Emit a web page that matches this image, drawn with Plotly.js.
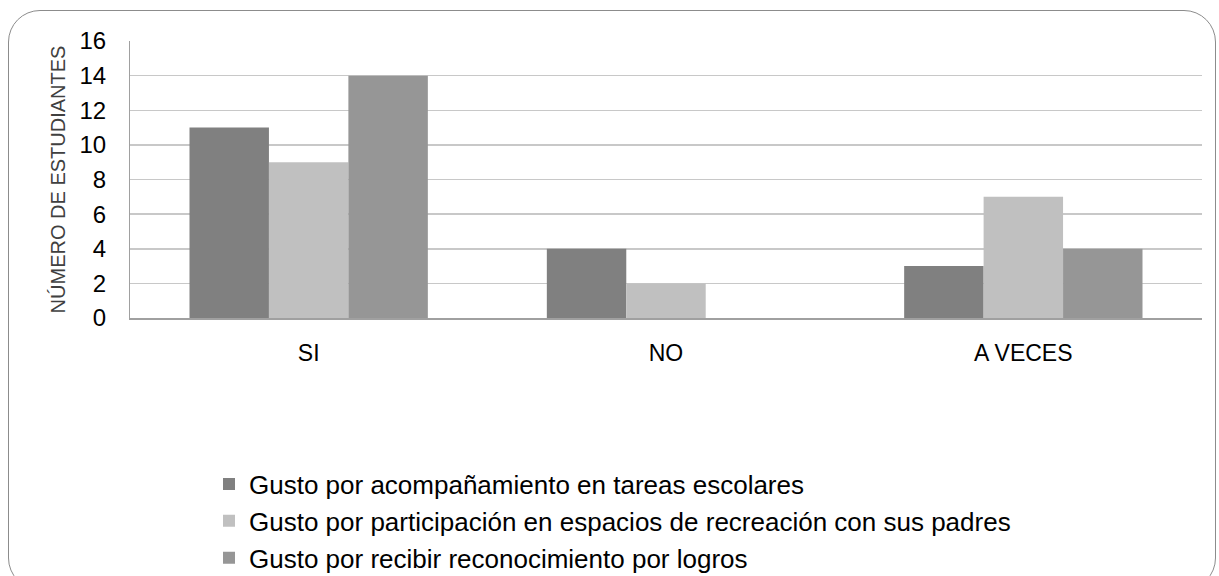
<!DOCTYPE html>
<html>
<head>
<meta charset="utf-8">
<script src="https://cdn.plot.ly/plotly-3.0.1.min.js"></script>
<style>
  html, body { margin: 0; padding: 0; background: #fff; overflow: hidden; }
  #wrap { position: relative; width: 1219px; height: 576px; }
  #frame { position: absolute; left: 8px; top: 10px; width: 1208px; height: 580px;
           border: 1.5px solid #8c8c8c; border-radius: 32px; box-sizing: border-box; pointer-events: none; }
  #chart { position: absolute; left: 0; top: 0; width: 1219px; height: 576px; }
</style>
</head>
<body>
<div id="wrap">
  <div id="chart"></div>
  <div id="frame"></div>
</div>
<script>
const categories = ["SI", "NO", "A VECES"];
const seriesNames = [
  "Gusto por acompañamiento en tareas escolares",
  "Gusto por participación en espacios de recreación con sus padres",
  "Gusto por recibir reconocimiento por logros"
];
const acompanamiento = [11, 4, 3];
const participacion = [9, 2, 7];
const reconocimiento = [14, 0, 4];
const yTicks = [0, 2, 4, 6, 8, 10, 12, 14, 16];
const colors = ["#808080", "#c0c0c0", "#969696"];

const values = [acompanamiento, participacion, reconocimiento];
const traces = values.map((v, i) => ({
  type: "bar",
  x: categories,
  y: v,
  name: seriesNames[i],
  legendgroup: "g" + i,
  marker: { color: colors[i], line: { width: 0 } },
  hoverinfo: "x+y+name"
}));

const layout = {
  width: 1219, height: 576,
  margin: { l: 130, r: 17, t: 41, b: 258, autoexpand: false },
  paper_bgcolor: "rgba(0,0,0,0)",
  plot_bgcolor: "#fff",
  font: { family: "Liberation Sans, Arial, sans-serif", color: "#000" },
  barmode: "group",
  bargap: 0.333,
  bargroupgap: 0,
  showlegend: true,
  legend: {
    x: 0.0737, xanchor: "left", y: -0.515, yanchor: "top",
    orientation: "v", traceorder: "grouped", tracegroupgap: 0,
    font: { size: 26, color: "#000" }, itemwidth: 30
  },
  xaxis: {
    type: "category",
    tickfont: { size: 23, color: "#000" },
    showline: true, linecolor: "#a0a0a0", linewidth: 1.5,
    ticks: "", showgrid: false, zeroline: false,
    ticklabelstandoff: 14
  },
  yaxis: {
    range: [0, 16],
    tickvals: yTicks,
    ticktext: yTicks.map(String),
    tickfont: { size: 24, color: "#000" },
    showgrid: true, gridcolor: "#c8c8c8", gridwidth: 1.5,
    showline: true, linecolor: "#a0a0a0", linewidth: 1,
    zeroline: false, ticks: "", ticklen: 0,
    ticklabelstandoff: 18,
    title: { text: "NÚMERO DE ESTUDIANTES", font: { size: 20, color: "#404040" }, standoff: 8 }
  }
};

Plotly.newPlot("chart", traces, layout, { displayModeBar: false, staticPlot: true });
</script>
</body>
</html>
